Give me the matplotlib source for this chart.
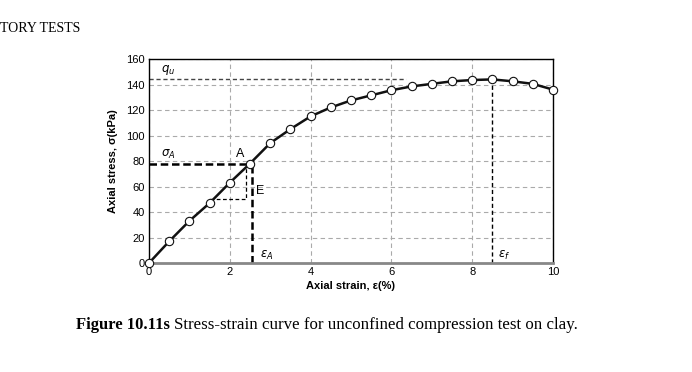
import numpy as np
import matplotlib.pyplot as plt

# stress-strain data
strain = [0, 0.5, 1.0, 1.5, 2.0, 2.5, 3.0, 3.5, 4.0, 4.5, 5.0, 5.5, 6.0,
          6.5, 7.0, 7.5, 8.0, 8.5, 9.0, 9.5, 10.0]
stress = [0, 17, 33, 47, 63, 78, 94, 105, 115, 122, 127.5, 131.5, 135.5,
          138.5, 140.5, 142.5, 143.5, 144, 142.5, 140.5, 136]
x_ticks = [0, 2, 4, 6, 8, 10]
y_ticks = [0, 20, 40, 60, 80, 100, 120, 140, 160]

qu = 144
eps_f = 8.5
sigma_A = 78
eps_A = 2.55

fig = plt.figure(figsize=(6.92, 3.72), dpi=100)
ax = fig.add_axes([149 / 692, 1 - 263 / 372, 404 / 692, 204 / 372])

ax.set_xlim(0, 10)
ax.set_ylim(0, 160)
ax.set_xticks(x_ticks)
ax.set_yticks(y_ticks)
ax.grid(True, color='#aaaaaa', linestyle=(0, (4, 3)), linewidth=0.8)
ax.set_axisbelow(True)
ax.tick_params(length=0, labelsize=8, pad=3)
for lab in ax.get_xticklabels() + ax.get_yticklabels():
    lab.set_family('Liberation Sans')
for s in ['top', 'right', 'left']:
    ax.spines[s].set_linewidth(1.0)
ax.spines['bottom'].set_color('#888888')
ax.spines['bottom'].set_linewidth(2.0)

# reference lines
ax.plot([0, 6.35], [qu, qu], color='#444444', ls=(0, (3, 2)), lw=1.0)
ax.plot([eps_f, eps_f], [0, qu], color='black', ls=(0, (3, 2)), lw=1.0)
ax.plot([0, 2.5], [sigma_A, sigma_A], color='black', ls=(0, (3, 1.5)), lw=1.8)
ax.plot([eps_A, eps_A], [0, sigma_A], color='black', ls=(0, (3, 1.5)), lw=1.8)
ax.plot([1.5, 2.4, 2.4], [50, 50, 76], color='black', ls=(0, (3, 2)), lw=0.9)

ax.plot(strain, stress, color='#111111', lw=1.8, marker='o', ms=6,
        mfc='white', mec='#111111', mew=0.8, clip_on=False, zorder=5)

ax.text(0.3, 150, r'$q_u$', fontsize=8.5)
ax.text(0.3, 83, r'$\sigma_A$', fontsize=8.5)
ax.text(2.15, 83, 'A', fontsize=9, family='Liberation Sans')
ax.text(2.65, 54, 'E', fontsize=9, family='Liberation Sans')
ax.text(2.75, 4, r'$\varepsilon_A$', fontsize=8.5)
ax.text(8.65, 4, r'$\varepsilon_f$', fontsize=8.5)

ax.set_xlabel('Axial strain, ε(%)', fontsize=8, fontweight='bold',
              family='Liberation Sans', labelpad=3)
ax.set_ylabel('Axial stress, σ(kPa)', fontsize=8, fontweight='bold',
              family='Liberation Sans', labelpad=6)

fig.text(0 / 692, 1 - 28 / 372, 'TORY TESTS', family='Liberation Serif',
         fontsize=10, va='center', ha='left')
fig.text(76 / 692, 1 - 325 / 372, 'Figure 10.11s', family='Liberation Serif',
         fontsize=12, fontweight='bold', va='center', ha='left')
fig.text(174 / 692, 1 - 325 / 372,
         'Stress-strain curve for unconfined compression test on clay.',
         family='Liberation Serif', fontsize=12.2, va='center', ha='left')

fig.savefig('out.png', dpi=100)
